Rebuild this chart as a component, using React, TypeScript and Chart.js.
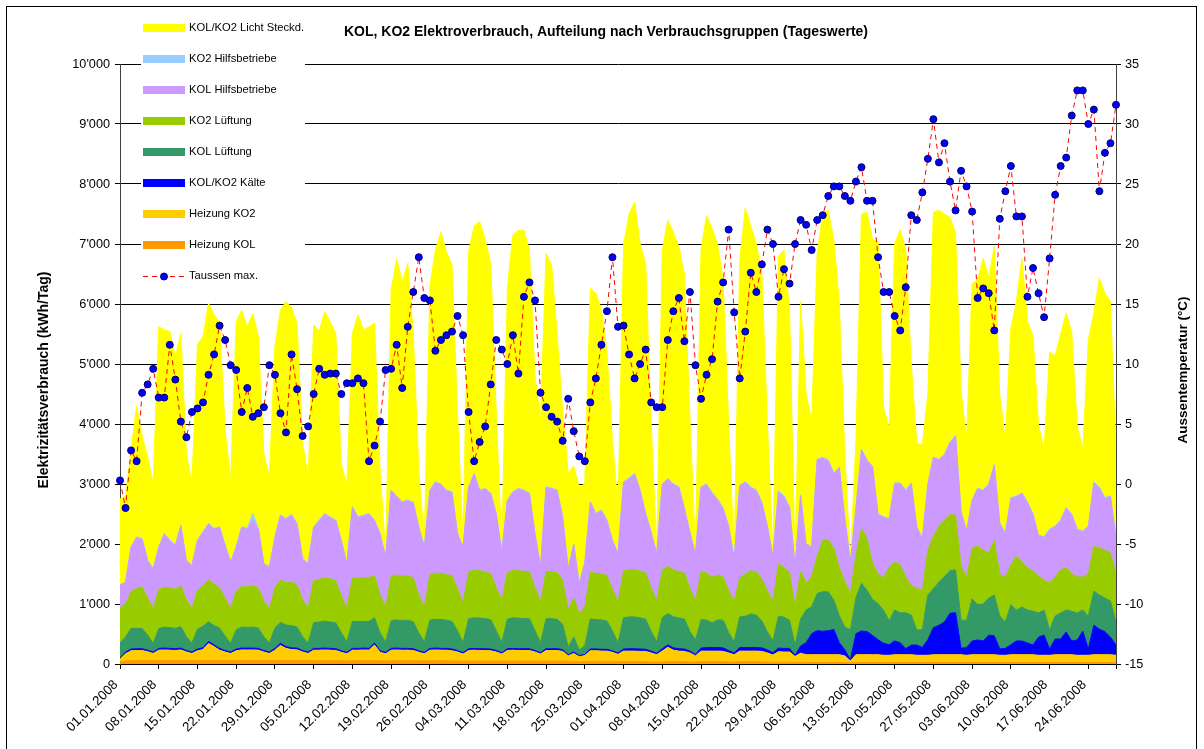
import React, { useEffect, useRef } from 'react';
import { Chart, registerables } from 'chart.js';

Chart.register(...registerables);

const FONT = '"Liberation Sans", Arial, sans-serif';

const chartTitle = 'KOL, KO2 Elektroverbrauch, Aufteilung nach Verbrauchsgruppen (Tageswerte)';
const leftAxisTitle = 'Elektrizitätsverbrauch (kWh/Tag)';
const rightAxisTitle = 'Aussentemperatur (°C)';

const xTickLabels = [
  '01.01.2008', '08.01.2008', '15.01.2008', '22.01.2008', '29.01.2008', '05.02.2008', '12.02.2008',
  '19.02.2008', '26.02.2008', '04.03.2008', '11.03.2008', '18.03.2008', '25.03.2008', '01.04.2008',
  '08.04.2008', '15.04.2008', '22.04.2008', '29.04.2008', '06.05.2008', '13.05.2008', '20.05.2008',
  '27.05.2008', '03.06.2008', '10.06.2008', '17.06.2008', '24.06.2008',
];

// daily values, 01.01.2008 ... 29.06.2008 (kWh/Tag)
const heizungKOL = [
  40, 50, 55, 60, 60, 60, 55, 60, 60, 60, 60, 60, 60, 55, 60, 60, 60, 60, 60, 60, 55,
  60, 60, 60, 60, 60, 60, 55, 60, 60, 60, 60, 60, 60, 55, 55, 55, 55, 55, 55, 55, 50,
  55, 55, 55, 55, 55, 55, 50, 55, 55, 55, 55, 55, 55, 50, 55, 55, 55, 55, 50, 50, 45,
  50, 50, 50, 50, 50, 50, 45, 50, 50, 50, 50, 50, 50, 45, 50, 50, 50, 50, 45, 45, 40,
  40, 45, 45, 45, 45, 45, 40, 40, 40, 40, 40, 40, 35, 35, 40, 40, 40, 40, 40, 35, 35,
  40, 40, 40, 40, 40, 35, 35, 40, 40, 40, 40, 40, 35, 30, 30, 30, 30, 25, 30, 25, 25,
  25, 25, 25, 25, 25, 25, 20, 25, 25, 25, 25, 25, 25, 25, 25, 25, 25, 25, 25, 25, 25,
  25, 25, 25, 25, 25, 25, 25, 25, 25, 25, 25, 25, 25, 25, 25, 25, 25, 25, 25, 25, 25,
  25, 25, 25, 25, 25, 25, 25, 25, 25, 25, 25, 25, 25,
];
const heizungKO2 = [
  40, 120, 165, 165, 165, 145, 120, 170, 175, 170, 165, 175, 140, 120, 160, 180, 280, 230, 170, 140, 120,
  160, 175, 175, 175, 170, 140, 120, 170, 250, 200, 180, 175, 140, 120, 175, 175, 180, 175, 170, 140, 120,
  175, 175, 180, 175, 260, 140, 120, 175, 180, 175, 175, 170, 140, 120, 175, 180, 175, 175, 170, 150, 120,
  175, 180, 175, 175, 170, 150, 120, 175, 180, 175, 175, 175, 150, 120, 175, 175, 175, 160, 90, 130, 80,
  100, 175, 175, 170, 170, 150, 120, 175, 175, 175, 170, 170, 150, 120, 175, 240, 190, 175, 170, 150, 100,
  175, 175, 175, 175, 170, 150, 120, 175, 175, 175, 175, 170, 150, 120, 175, 170, 170, 100, 150, 130, 130,
  130, 130, 130, 130, 130, 110, 30, 130, 130, 130, 130, 130, 120, 120, 130, 130, 130, 130, 120, 120, 120,
  130, 130, 130, 130, 130, 130, 120, 130, 130, 130, 130, 130, 120, 120, 130, 130, 130, 130, 130, 120, 120,
  120, 130, 130, 130, 130, 120, 120, 120, 130, 130, 130, 130, 120,
];
const kaelte = [
  20, 30, 30, 30, 30, 25, 25, 30, 30, 30, 30, 30, 25, 25, 30, 30, 35, 30, 30, 25, 25,
  30, 30, 30, 30, 30, 25, 25, 30, 35, 30, 30, 30, 25, 25, 30, 30, 30, 30, 30, 25, 25,
  30, 30, 30, 30, 35, 25, 25, 30, 30, 30, 30, 30, 25, 25, 30, 30, 30, 30, 30, 25, 25,
  30, 30, 30, 30, 30, 25, 25, 30, 30, 30, 30, 30, 25, 25, 30, 30, 30, 30, 20, 25, 20,
  20, 30, 30, 30, 30, 25, 25, 35, 40, 40, 40, 35, 30, 25, 40, 40, 40, 40, 40, 30, 25,
  50, 60, 60, 60, 60, 40, 30, 60, 60, 60, 60, 60, 50, 40, 60, 60, 60, 20, 120, 200, 350,
  400, 390, 400, 420, 200, 100, 20, 350, 395, 385, 320, 250, 200, 175, 230, 200, 100, 160, 170, 130, 260,
  450, 490, 545, 690, 700, 106, 130, 228, 245, 228, 326, 314, 106, 115, 165, 228, 228, 195, 162, 303, 338,
  106, 260, 260, 379, 228, 255, 402, 106, 491, 425, 384, 293, 172,
];
const kolLueftung = [
  250, 250, 344, 339, 339, 250, 144, 330, 350, 345, 340, 355, 230, 150, 330, 360, 330, 320, 340, 240, 150,
  320, 350, 345, 350, 340, 230, 150, 340, 350, 360, 370, 350, 230, 150, 430, 440, 450, 440, 430, 300, 175,
  450, 450, 445, 450, 420, 300, 175, 460, 470, 460, 470, 450, 300, 175, 470, 480, 480, 470, 460, 330, 170,
  500, 510, 510, 500, 490, 330, 170, 490, 510, 510, 500, 500, 330, 170, 500, 500, 490, 420, 130, 250, 95,
  150, 500, 490, 490, 470, 330, 170, 520, 530, 530, 520, 500, 330, 190, 520, 520, 520, 510, 500, 330, 240,
  470, 460, 410, 460, 460, 300, 190, 510, 520, 560, 540, 450, 300, 200, 530, 520, 470, 170, 450, 545, 450,
  620, 660, 650, 490, 450, 380, 500, 600, 795, 690, 600, 600, 550, 400, 515, 500, 600, 500, 250, 300, 745,
  650, 720, 755, 715, 712, 468, 454, 702, 588, 617, 619, 681, 549, 440, 668, 517, 567, 550, 563, 402, 417,
  316, 385, 435, 366, 497, 450, 353, 549, 569, 570, 561, 602, 383,
];
const ko2Lueftung = [
  578, 550, 612, 667, 695, 620, 584, 650, 670, 660, 650, 680, 620, 580, 650, 680, 700, 690, 670, 630, 580,
  640, 680, 675, 690, 670, 600, 570, 680, 700, 710, 720, 700, 620, 580, 700, 710, 720, 720, 700, 620, 560,
  720, 730, 725, 730, 700, 640, 580, 740, 750, 740, 750, 730, 640, 580, 760, 770, 770, 760, 760, 700, 660,
  780, 790, 790, 780, 770, 720, 700, 780, 790, 790, 790, 780, 720, 680, 790, 780, 780, 740, 620, 650, 610,
  640, 780, 770, 770, 760, 700, 680, 780, 790, 790, 780, 770, 720, 690, 780, 790, 780, 780, 770, 720, 650,
  800, 780, 760, 750, 720, 700, 670, 650, 700, 720, 720, 700, 680, 660, 870, 830, 800, 650, 800, 450, 500,
  625, 860, 860, 870, 800, 760, 600, 700, 915, 865, 600, 500, 540, 900, 800, 800, 600, 490, 700, 650, 750,
  870, 930, 945, 930, 913, 905, 713, 844, 976, 900, 750, 908, 702, 742, 662, 899, 750, 700, 670, 619, 500,
  783, 650, 718, 700, 620, 600, 550, 700, 746, 781, 798, 800, 802,
];
const kolHilfsbetriebe = [
  382, 360, 735, 844, 786, 618, 651, 695, 878, 787, 723, 1002, 643, 705, 822, 881, 924, 916, 1004, 873, 761,
  731, 979, 961, 1096, 976, 608, 687, 827, 1073, 1053, 1116, 1014, 671, 733, 884, 975, 1061, 1015, 1000, 912, 733,
  1177, 1001, 1030, 1056, 915, 1003, 824, 1425, 1300, 1231, 1238, 1250, 1114, 991, 1395, 1509, 1475, 1395, 1387, 908, 920,
  1406, 1603, 1330, 1378, 1325, 1221, 797, 1193, 1297, 1358, 1340, 1300, 888, 567, 1396, 1380, 1360, 1041, 674, 885, 484,
  735, 1161, 986, 1047, 910, 802, 795, 1474, 1510, 1588, 1335, 981, 920, 770, 1430, 1450, 1415, 1396, 1065, 920, 765,
  1406, 1470, 1400, 1250, 1135, 1060, 700, 1526, 1529, 1380, 1350, 1265, 1070, 735, 1206, 1175, 1077, 654, 1255, 635, 494,
  1598, 1366, 1320, 1233, 1662, 1035, 515, 780, 1303, 1290, 1610, 980, 1008, 790, 1303, 1348, 1430, 1698, 1013, 855, 1085,
  1312, 1103, 1085, 1195, 1314, 895, 763, 795, 955, 985, 1135, 1250, 833, 731, 1106, 986, 1138, 1085, 935, 666, 708,
  885, 835, 817, 994, 985, 785, 755, 785, 1055, 1004, 858, 939, 583,
];
const ko2Hilfsbetriebe = [
  10, 10, 15, 15, 15, 15, 15, 15, 15, 15, 15, 15, 15, 15, 15, 15, 15, 15, 15, 15, 15,
  15, 15, 15, 110, 15, 15, 15, 15, 15, 15, 15, 15, 15, 15, 15, 15, 15, 15, 15, 15, 15,
  15, 15, 15, 15, 15, 15, 15, 15, 15, 15, 15, 15, 15, 15, 15, 15, 15, 15, 15, 15, 15,
  15, 15, 15, 15, 15, 15, 15, 15, 15, 15, 15, 15, 15, 15, 15, 15, 15, 15, 15, 15, 15,
  15, 15, 15, 15, 15, 15, 15, 15, 15, 15, 15, 15, 15, 15, 15, 15, 15, 15, 15, 15, 15,
  15, 15, 15, 15, 15, 15, 15, 15, 15, 15, 15, 15, 15, 15, 15, 15, 15, 15, 15, 15, 15,
  15, 15, 15, 15, 15, 15, 15, 15, 15, 15, 15, 15, 15, 15, 15, 15, 15, 15, 15, 15, 15,
  15, 15, 15, 15, 15, 15, 15, 15, 15, 15, 15, 15, 15, 15, 15, 15, 15, 15, 15, 15, 15,
  15, 15, 15, 15, 15, 15, 15, 15, 15, 15, 15, 15, 15,
];
const lichtSteckdosen = [
  1430, 1430, 1594, 2180, 1710, 1717, 1406, 3670, 3392, 3473, 3137, 3193, 1777, 1360, 3253, 3254, 3666, 3559, 3411, 1917, 1354,
  3744, 3611, 3359, 3329, 3199, 1832, 1498, 3178, 3417, 3612, 3449, 3336, 1919, 1442, 3361, 3150, 3359, 3250, 3110, 1273, 1302,
  2888, 3364, 3090, 3109, 3280, 1052, 61, 3330, 3960, 3664, 3947, 2810, 941, 94, 3400, 3861, 4200, 3970, 3778, 2002, 95,
  3914, 4122, 4470, 4142, 3830, 1669, 78, 3527, 4278, 4302, 4330, 4050, 2622, 2448, 3894, 3720, 2600, 1744, 1586, 1300, 1606,
  1300, 3554, 3669, 3333, 2800, 1663, 755, 3941, 4400, 4522, 4100, 4169, 1800, 55, 3900, 4305, 4200, 3994, 3900, 1900, 70,
  3944, 4480, 4400, 4250, 3800, 1700, 40, 3757, 4561, 4350, 4100, 3800, 1700, 50, 3914, 4100, 3294, 66, 3228, 2500, 2086,
  3426, 4054, 4164, 3884, 2718, 1054, 50, 1110, 3920, 4130, 3769, 4536, 1812, 1515, 3988, 4216, 4005, 1982, 1384, 1555, 1500,
  4078, 4151, 4000, 3741, 3391, 2011, 1524, 3599, 3469, 3860, 3444, 3631, 2140, 1556, 2821, 3246, 3907, 3022, 2963, 1821, 1459,
  2953, 2838, 3100, 3243, 3027, 1721, 1362, 3098, 2821, 3485, 3405, 3242, 1400,
];
// Taussen max. (°C)
const taussenMax = [
  0.3, -2.0, 2.8, 1.9, 7.6, 8.3, 9.6, 7.2, 7.2, 11.6, 8.7, 5.2, 3.9, 6.0, 6.3, 6.8, 9.1, 10.8, 13.2, 12.0, 9.9,
  9.5, 6.0, 8.0, 5.6, 5.9, 6.4, 9.9, 9.1, 5.9, 4.3, 10.8, 7.9, 4.0, 4.8, 7.5, 9.6, 9.1, 9.2, 9.2, 7.5, 8.4,
  8.4, 8.8, 8.4, 1.9, 3.2, 5.2, 9.5, 9.6, 11.6, 8.0, 13.1, 16.0, 18.9, 15.5, 15.3, 11.1, 12.0, 12.4, 12.7, 14.0, 12.4,
  6.0, 1.9, 3.5, 4.8, 8.3, 12.0, 11.2, 10.0, 12.4, 9.2, 15.6, 16.8, 15.3, 7.6, 6.4, 5.6, 5.2, 3.6, 7.1, 4.4, 2.3,
  1.9, 6.8, 8.8, 11.6, 14.4, 18.9, 13.1, 13.2, 10.8, 8.8, 10.0, 11.2, 6.8, 6.4, 6.4, 12.0, 14.4, 15.5, 11.9, 16.0, 9.9,
  7.1, 9.1, 10.4, 15.2, 16.8, 21.2, 14.3, 8.8, 12.7, 17.6, 16.0, 18.3, 21.2, 20.0, 15.6, 17.9, 16.7, 20.0, 22.0, 21.6, 19.5,
  22.0, 22.4, 24.0, 24.8, 24.8, 24.0, 23.6, 25.2, 26.4, 23.6, 23.6, 18.9, 16.0, 16.0, 14.0, 12.8, 16.4, 22.4, 22.0, 24.3, 27.1,
  30.4, 26.8, 28.4, 25.2, 22.8, 26.1, 24.8, 22.7, 15.5, 16.3, 15.9, 12.8, 22.1, 24.4, 26.5, 22.3, 22.3, 15.6, 18.0, 15.9, 13.9,
  18.8, 24.1, 26.5, 27.2, 30.7, 32.8, 32.8, 30.0, 31.2, 24.4, 27.6, 28.4, 31.6,
];

// stacking order bottom -> top
const areaNames = [
  'Heizung KOL', 'Heizung KO2', 'KOL/KO2 Kälte', 'KOL Lüftung', 'KO2 Lüftung',
  'KOL Hilfsbetriebe', 'KO2 Hilfsbetriebe', 'KOL/KO2 Licht Steckd.',
];
const areaColors = ['#FF9900', '#FFCC00', '#0000FF', '#339966', '#99CC00', '#CC99FF', '#99CCFF', '#FFFF00'];
const areaValues = [heizungKOL, heizungKO2, kaelte, kolLueftung, ko2Lueftung, kolHilfsbetriebe, ko2Hilfsbetriebe, lichtSteckdosen];
const tempName = 'Taussen max.';

const overlayPlugin = {
  id: 'overlay',
  afterDraw(chart: any) {
    const c = chart.ctx as CanvasRenderingContext2D;
    c.save();
    // legend
    c.fillStyle = '#FFFFFF';
    c.fillRect(141, 10, 164, 282);
    const order = [7, 6, 5, 4, 3, 2, 1, 0];
    const rows: { label: string; color?: string }[] = order.map((k) => ({ label: areaNames[k], color: areaColors[k] }));
    rows.push({ label: tempName });
    rows.forEach((r, k) => {
      const y = 27.5 + k * 31.05;
      if (r.color) {
        c.fillStyle = r.color;
        c.fillRect(143, Math.round(y - 4), 42, 8);
      } else {
        c.strokeStyle = '#FF0000';
        c.lineWidth = 1;
        c.setLineDash([5, 4]);
        c.beginPath();
        c.moveTo(143, Math.round(y) + 0.5);
        c.lineTo(185, Math.round(y) + 0.5);
        c.stroke();
        c.setLineDash([]);
        c.beginPath();
        c.arc(164, Math.round(y) + 0.5, 3.5, 0, Math.PI * 2);
        c.fillStyle = '#0000FF';
        c.fill();
        c.strokeStyle = '#000066';
        c.stroke();
      }
      c.fillStyle = '#000000';
      c.font = `11.2px ${FONT}`;
      c.textAlign = 'left';
      c.textBaseline = 'middle';
      c.fillText(r.label, 189, y);
    });
    // title
    c.fillStyle = '#000000';
    c.font = `bold 14px ${FONT}`;
    c.textAlign = 'center';
    c.textBaseline = 'middle';
    c.fillText(chartTitle, 606, 32);
    // axis titles
    c.font = `bold 14px ${FONT}`;
    c.save();
    c.translate(44, 380);
    c.rotate(-Math.PI / 2);
    c.fillText(leftAxisTitle, 0, 0);
    c.restore();
    c.font = `bold 13.5px ${FONT}`;
    c.save();
    c.translate(1183, 370);
    c.rotate(-Math.PI / 2);
    c.fillText(rightAxisTitle, 0, 0);
    c.restore();
    // outer frame
    c.strokeStyle = '#000000';
    c.lineWidth = 1;
    c.strokeRect(6.5, 6.5, 1190, 800);
    c.restore();
  },
};

export default function App() {
  const ref = useRef<HTMLCanvasElement>(null);
  useEffect(() => {
    const canvas = ref.current;
    if (!canvas) return;
    const days = taussenMax.map((_, i) => i);
    const datasets: any[] = areaValues.map((vals, k) => ({
      type: 'line',
      label: areaNames[k],
      data: vals,
      yAxisID: 'y',
      stack: 'verbrauch',
      backgroundColor: areaColors[k],
      borderColor: areaColors[k],
      borderWidth: 1,
      pointRadius: 0,
      tension: 0,
      fill: k === 0 ? 'origin' : '-1',
      order: 1,
    }));
    datasets.push({
      type: 'line',
      label: tempName,
      data: taussenMax,
      yAxisID: 'y1',
      borderColor: '#FF0000',
      borderWidth: 1,
      borderDash: [5, 4],
      pointRadius: 3.5,
      pointBackgroundColor: '#0000FF',
      pointBorderColor: '#000066',
      pointBorderWidth: 1,
      tension: 0,
      fill: false,
      order: 0,
      clip: false,
    });
    const tickFont = { family: FONT, size: 12.7 };
    const chart = new Chart(canvas, {
      type: 'line',
      data: { labels: days, datasets },
      options: {
        animation: false,
        responsive: false,
        devicePixelRatio: 1,
        events: [],
        layout: { padding: { top: 64, left: 0, right: 0, bottom: 0 } },
        plugins: { legend: { display: false }, tooltip: { enabled: false }, title: { display: false } },
        scales: {
          x: {
            type: 'linear',
            min: 0,
            max: 180,
            bounds: 'data',
            afterFit: (s: any) => { s.height = 85; },
            grid: { drawOnChartArea: false, tickLength: 5, color: '#000000' },
            border: { display: true, color: '#000000' },
            ticks: {
              stepSize: 7,
              includeBounds: false,
              autoSkip: false,
              minRotation: 45,
              maxRotation: 45,
              padding: 8,
              labelOffset: -4,
              color: '#000000',
              font: { family: FONT, size: 13.3 },
              callback: (v: any) => xTickLabels[Math.round(Number(v) / 7)] ?? '',
            },
          },
          y: {
            type: 'linear',
            position: 'left',
            stacked: true,
            min: 0,
            max: 10000,
            afterFit: (s: any) => { s.width = 120; },
            grid: { color: '#000000', tickLength: 5 },
            border: { display: true, color: '#404040' },
            ticks: {
              stepSize: 1000,
              padding: 5,
              color: '#000000',
              font: tickFont,
              callback: (v: any) => (Number(v) === 0 ? '0' : `${Math.round(Number(v) / 1000)}'000`),
            },
          },
          y1: {
            type: 'linear',
            position: 'right',
            min: -15,
            max: 35,
            afterFit: (s: any) => { s.width = 88; },
            grid: { drawOnChartArea: false, color: '#000000', tickLength: 5 },
            border: { display: true, color: '#404040' },
            ticks: { stepSize: 5, padding: 4, color: '#000000', font: tickFont },
          },
        },
      } as any,
      plugins: [overlayPlugin],
    });
    return () => chart.destroy();
  }, []);
  return (
    <div style={{ position: 'absolute', left: 0, top: 0, width: 1204, height: 749, background: '#FFFFFF' }}>
      <canvas ref={ref} width={1204} height={749} style={{ display: 'block', width: 1204, height: 749 }} />
    </div>
  );
}
